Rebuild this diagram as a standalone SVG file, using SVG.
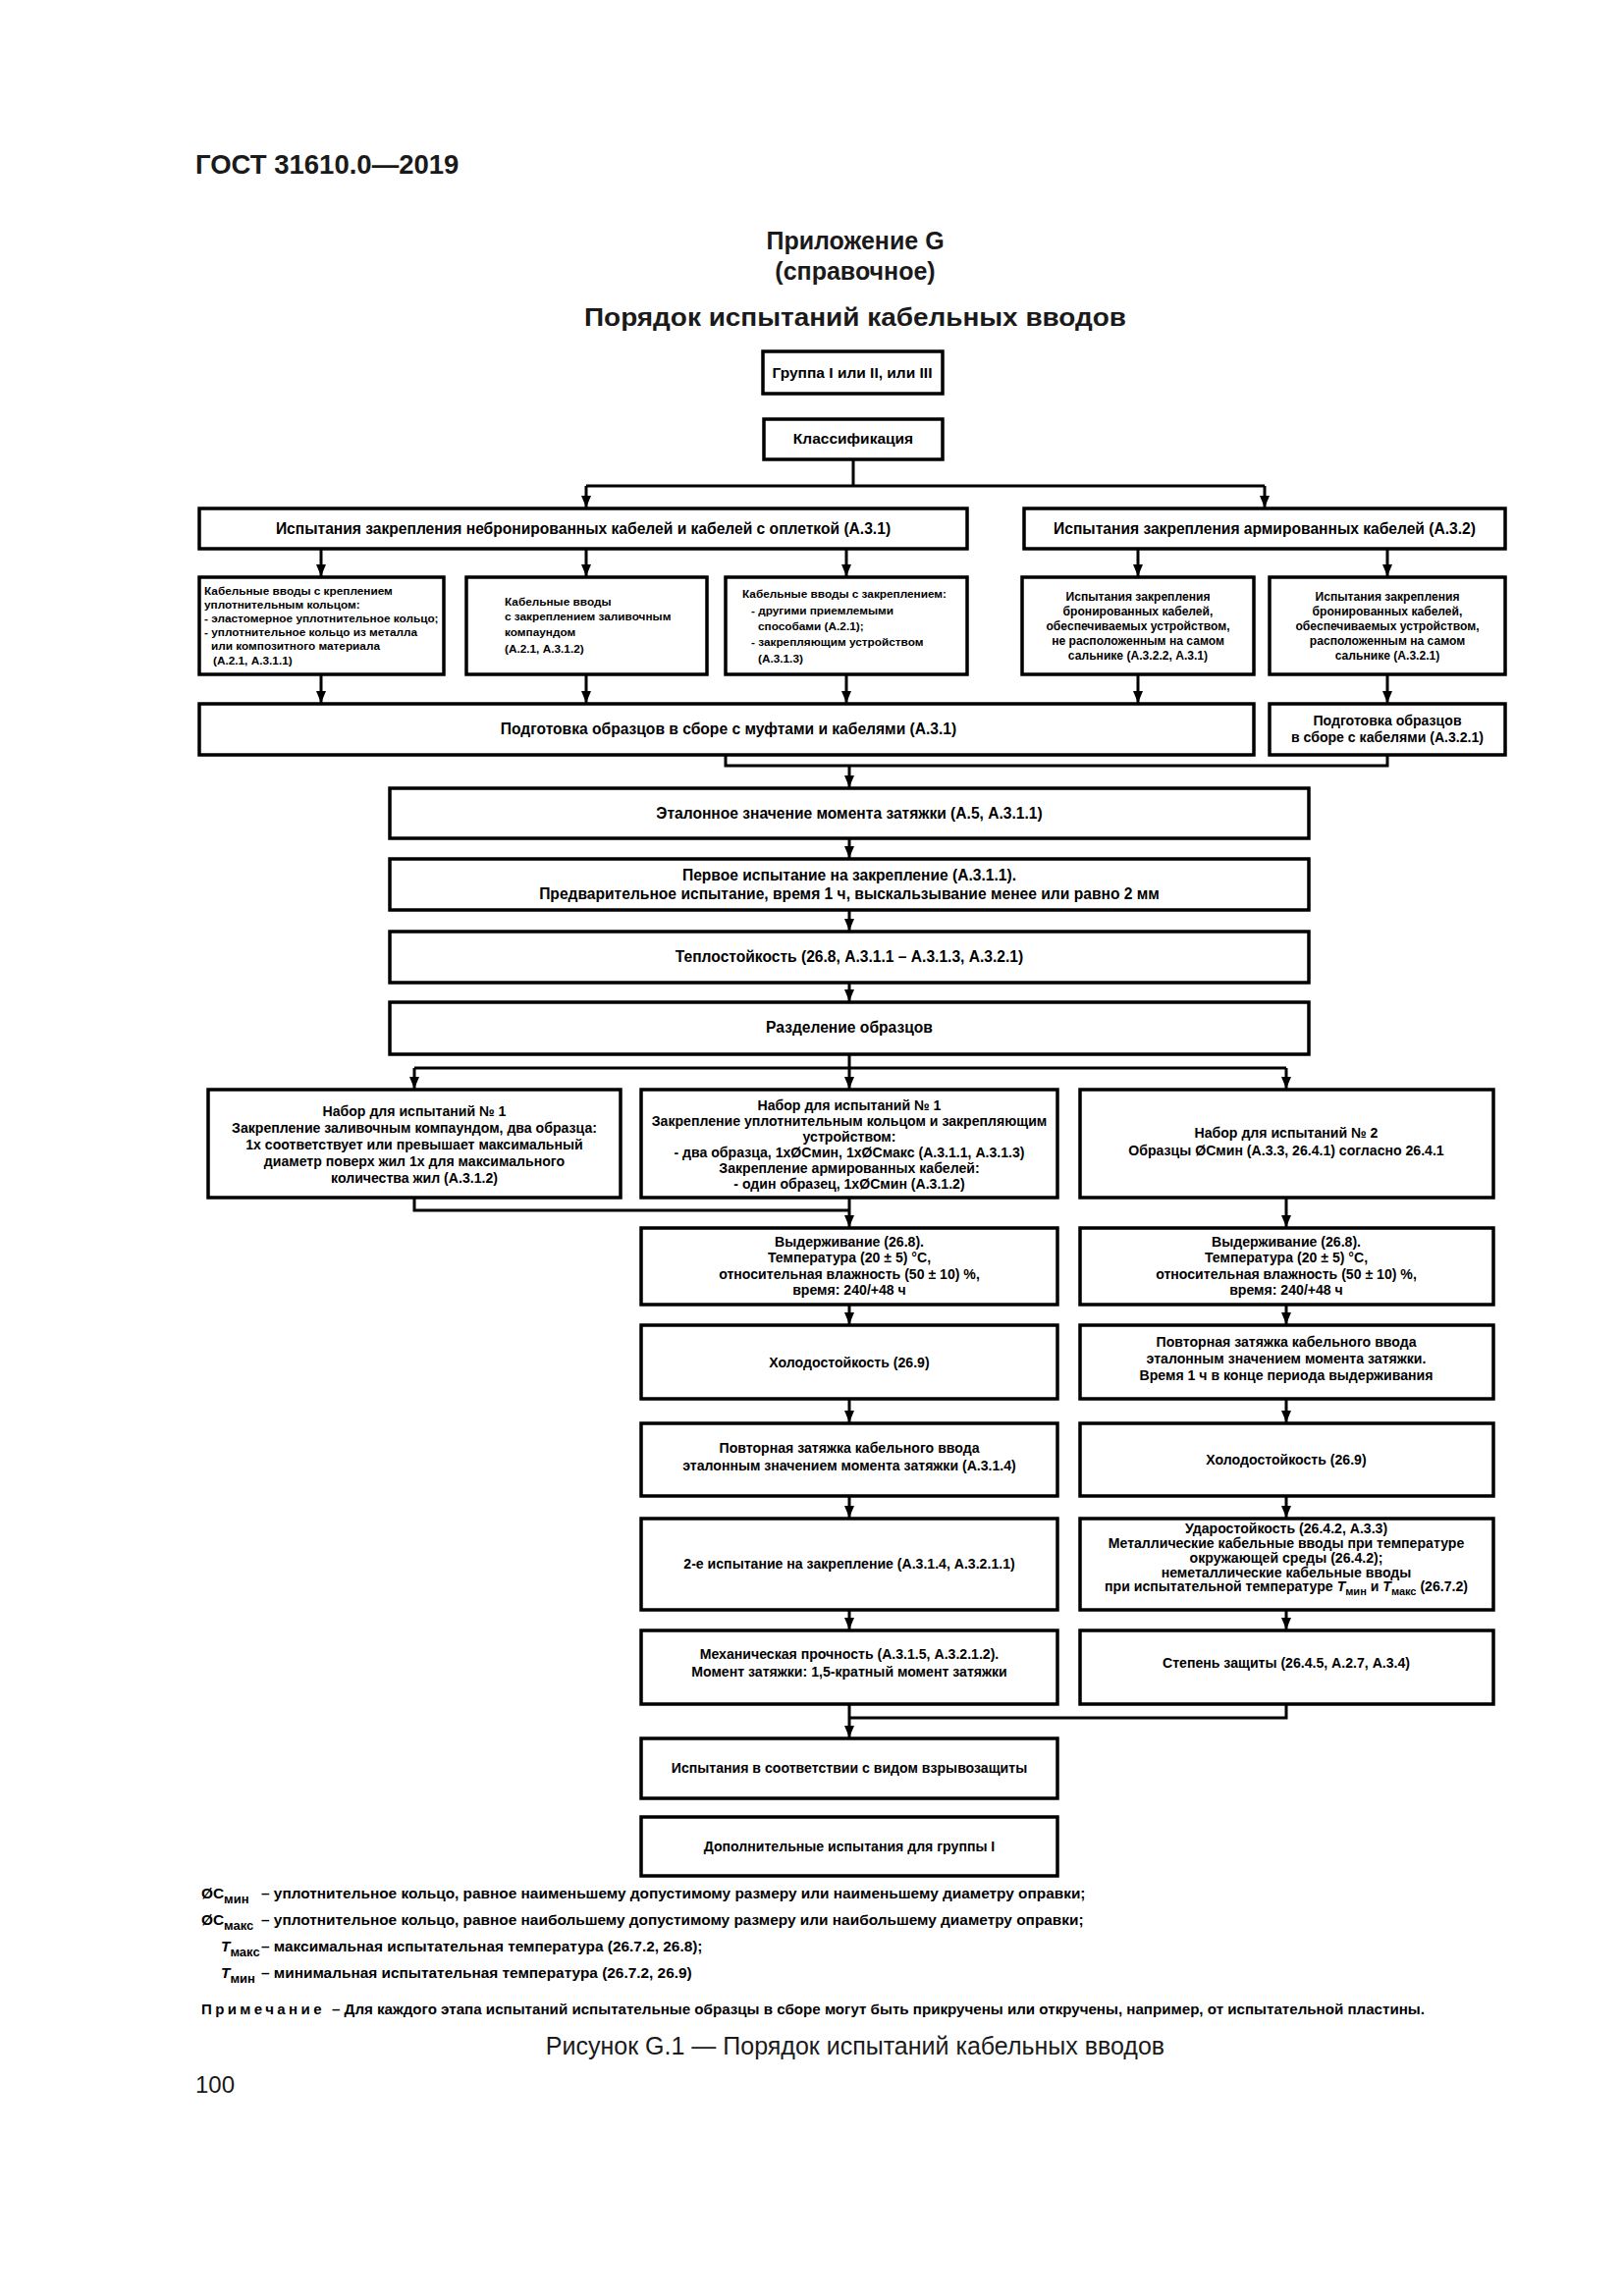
<svg xmlns="http://www.w3.org/2000/svg" width="1654" height="2339" viewBox="0 0 1654 2339">
<defs>
<style>
.bg{fill:#fff}
.box{fill:#fff;stroke:#000;stroke-width:3.5}
.ln{fill:none;stroke:#000;stroke-width:3}
text{font-family:"Liberation Sans",Arial,sans-serif;fill:#000}
.b{font-weight:bold}
.c{text-anchor:middle}
.f14{font-size:15.6px}
.f13{font-size:14.1px}
.f11{font-size:11.8px}
.f12{font-size:12.1px}
.f15{font-size:15.5px}
.lg{font-size:15.4px}
.hd{fill:#1a1a1a}
</style>
<marker id="ah" viewBox="0 0 12 10" refX="12" refY="5" markerWidth="12" markerHeight="10" markerUnits="userSpaceOnUse" orient="auto">
<path d="M0,0 L12,5 L0,10 z" fill="#000"/>
</marker>
</defs>
<rect class="bg" x="0" y="0" width="1654" height="2339"/>

<g id="header">
<text class="b hd" x="199" y="177" font-size="27.5">ГОСТ 31610.0—2019</text>
<text class="b c hd" x="871" y="254" font-size="25">Приложение G</text>
<text class="b c hd" x="871" y="285" font-size="25">(справочное)</text>
<text class="b c hd" x="871" y="332" font-size="26" textLength="552" lengthAdjust="spacingAndGlyphs">Порядок испытаний кабельных вводов</text>
</g>

<g id="connectors">
<path class="ln" d="M869,468 V495 M597,495 H1288"/>
<line class="ln" x1="597" y1="495" x2="597" y2="517" marker-end="url(#ah)"/>
<line class="ln" x1="1288" y1="495" x2="1288" y2="517" marker-end="url(#ah)"/>
<line class="ln" x1="327" y1="559" x2="327" y2="587" marker-end="url(#ah)"/>
<line class="ln" x1="597" y1="559" x2="597" y2="587" marker-end="url(#ah)"/>
<line class="ln" x1="862" y1="559" x2="862" y2="587" marker-end="url(#ah)"/>
<line class="ln" x1="1159" y1="559" x2="1159" y2="587" marker-end="url(#ah)"/>
<line class="ln" x1="1413" y1="559" x2="1413" y2="587" marker-end="url(#ah)"/>
<line class="ln" x1="327" y1="687" x2="327" y2="716" marker-end="url(#ah)"/>
<line class="ln" x1="597" y1="687" x2="597" y2="716" marker-end="url(#ah)"/>
<line class="ln" x1="862" y1="687" x2="862" y2="716" marker-end="url(#ah)"/>
<line class="ln" x1="1159" y1="687" x2="1159" y2="716" marker-end="url(#ah)"/>
<line class="ln" x1="1413" y1="687" x2="1413" y2="716" marker-end="url(#ah)"/>
<path class="ln" d="M739,769 V780 H1413 V769"/>
<line class="ln" x1="865" y1="780" x2="865" y2="802" marker-end="url(#ah)"/>
<line class="ln" x1="865" y1="854" x2="865" y2="874" marker-end="url(#ah)"/>
<line class="ln" x1="865" y1="927" x2="865" y2="948" marker-end="url(#ah)"/>
<line class="ln" x1="865" y1="1001" x2="865" y2="1020" marker-end="url(#ah)"/>
<path class="ln" d="M865,1074 V1088 M422,1088 H1310"/>
<line class="ln" x1="422" y1="1088" x2="422" y2="1109" marker-end="url(#ah)"/>
<line class="ln" x1="865" y1="1088" x2="865" y2="1109" marker-end="url(#ah)"/>
<line class="ln" x1="1310" y1="1088" x2="1310" y2="1109" marker-end="url(#ah)"/>
<path class="ln" d="M422,1220 V1233 H865"/>
<line class="ln" x1="865" y1="1220" x2="865" y2="1250" marker-end="url(#ah)"/>
<line class="ln" x1="1310" y1="1220" x2="1310" y2="1250" marker-end="url(#ah)"/>
<line class="ln" x1="865" y1="1329" x2="865" y2="1349" marker-end="url(#ah)"/>
<line class="ln" x1="1310" y1="1329" x2="1310" y2="1349" marker-end="url(#ah)"/>
<line class="ln" x1="865" y1="1425" x2="865" y2="1449" marker-end="url(#ah)"/>
<line class="ln" x1="1310" y1="1425" x2="1310" y2="1449" marker-end="url(#ah)"/>
<line class="ln" x1="865" y1="1524" x2="865" y2="1546" marker-end="url(#ah)"/>
<line class="ln" x1="1310" y1="1524" x2="1310" y2="1546" marker-end="url(#ah)"/>
<line class="ln" x1="865" y1="1640" x2="865" y2="1660" marker-end="url(#ah)"/>
<line class="ln" x1="1310" y1="1640" x2="1310" y2="1660" marker-end="url(#ah)"/>
<path class="ln" d="M1310,1736 V1750 H865"/>
<line class="ln" x1="865" y1="1736" x2="865" y2="1770" marker-end="url(#ah)"/>
</g>

<g id="n-group">
<rect class="box" x="777" y="358" width="183" height="43"/>
<text class="b c f15" x="868" y="385">Группа I или II, или III</text>
</g>
<g id="n-class">
<rect class="box" x="778" y="427" width="182" height="41"/>
<text class="b c f15" x="869" y="452">Классификация</text>
</g>
<g id="n-unarmored">
<rect class="box" x="203" y="518" width="782" height="41"/>
<text class="b c f14" x="594" y="544">Испытания закрепления небронированных кабелей и кабелей с оплеткой (А.3.1)</text>
</g>
<g id="n-armored">
<rect class="box" x="1043" y="518" width="490" height="41"/>
<text class="b c f14" x="1288" y="544">Испытания закрепления армированных кабелей (А.3.2)</text>
</g>
<g id="n-a">
<rect class="box" x="203" y="588" width="249" height="99"/>
<text class="b f11" x="208" y="606">Кабельные вводы с креплением</text>
<text class="b f11" x="208" y="620">уплотнительным кольцом:</text>
<text class="b f11" x="208" y="634">- эластомерное уплотнительное кольцо;</text>
<text class="b f11" x="208" y="648">- уплотнительное кольцо из металла</text>
<text class="b f11" x="215" y="662">или композитного материала</text>
<text class="b f11" x="217" y="677">(А.2.1, А.3.1.1)</text>
</g>
<g id="n-b">
<rect class="box" x="475" y="588" width="245" height="99"/>
<text class="b f11" x="514" y="617">Кабельные вводы</text>
<text class="b f11" x="514" y="632">с закреплением заливочным</text>
<text class="b f11" x="514" y="648">компаундом</text>
<text class="b f11" x="514" y="665">(А.2.1, А.3.1.2)</text>
</g>
<g id="n-c">
<rect class="box" x="739" y="588" width="246" height="99"/>
<text class="b f11" x="756" y="609">Кабельные вводы с закреплением:</text>
<text class="b f11" x="765" y="626">- другими приемлемыми</text>
<text class="b f11" x="772" y="642">способами (А.2.1);</text>
<text class="b f11" x="765" y="658">- закрепляющим устройством</text>
<text class="b f11" x="772" y="675">(А.3.1.3)</text>
</g>
<g id="n-d">
<rect class="box" x="1041" y="588" width="236" height="99"/>
<text class="b c f12" x="1159" y="612">Испытания закрепления</text>
<text class="b c f12" x="1159" y="627">бронированных кабелей,</text>
<text class="b c f12" x="1159" y="642">обеспечиваемых устройством,</text>
<text class="b c f12" x="1159" y="657">не расположенным на самом</text>
<text class="b c f12" x="1159" y="672">сальнике (А.3.2.2, А.3.1)</text>
</g>
<g id="n-e">
<rect class="box" x="1293" y="588" width="240" height="99"/>
<text class="b c f12" x="1413" y="612">Испытания закрепления</text>
<text class="b c f12" x="1413" y="627">бронированных кабелей,</text>
<text class="b c f12" x="1413" y="642">обеспечиваемых устройством,</text>
<text class="b c f12" x="1413" y="657">расположенным на самом</text>
<text class="b c f12" x="1413" y="672">сальнике (А.3.2.1)</text>
</g>
<g id="n-prep">
<rect class="box" x="203" y="717" width="1074" height="52"/>
<text class="b c f14" x="742" y="748">Подготовка образцов в сборе с муфтами и кабелями (А.3.1)</text>
</g>
<g id="n-prep2">
<rect class="box" x="1293" y="717" width="240" height="52"/>
<text class="b c f13" x="1413" y="739">Подготовка образцов</text>
<text class="b c f13" x="1413" y="756">в сборе с кабелями (А.3.2.1)</text>
</g>
<g id="n-ref">
<rect class="box" x="397" y="803" width="936" height="51"/>
<text class="b c f14" x="865" y="834">Эталонное значение момента затяжки (А.5, А.3.1.1)</text>
</g>
<g id="n-first">
<rect class="box" x="397" y="875" width="936" height="52"/>
<text class="b c f14" x="865" y="897">Первое испытание на закрепление (А.3.1.1).</text>
<text class="b c f14" x="865" y="916">Предварительное испытание, время 1 ч, выскальзывание менее или равно 2 мм</text>
</g>
<g id="n-heat">
<rect class="box" x="397" y="949" width="936" height="52"/>
<text class="b c f14" x="865" y="980">Теплостойкость (26.8, А.3.1.1 – А.3.1.3, А.3.2.1)</text>
</g>
<g id="n-split">
<rect class="box" x="397" y="1021" width="936" height="53"/>
<text class="b c f14" x="865" y="1052">Разделение образцов</text>
</g>
<g id="n-set1a">
<rect class="box" x="212" y="1110" width="420" height="110"/>
<text class="b c f13" x="422" y="1137">Набор для испытаний № 1</text>
<text class="b c f13" x="422" y="1154">Закрепление заливочным компаундом, два образца:</text>
<text class="b c f13" x="422" y="1171">1x соответствует или превышает максимальный</text>
<text class="b c f13" x="422" y="1188">диаметр поверх жил 1x для максимального</text>
<text class="b c f13" x="422" y="1205">количества жил (А.3.1.2)</text>
</g>
<g id="n-set1b">
<rect class="box" x="653" y="1110" width="424" height="110"/>
<text class="b c f13" x="865" y="1131">Набор для испытаний № 1</text>
<text class="b c f13" x="865" y="1147">Закрепление уплотнительным кольцом и закрепляющим</text>
<text class="b c f13" x="865" y="1163">устройством:</text>
<text class="b c f13" x="865" y="1179">- два образца, 1xØCмин, 1xØCмакс (А.3.1.1, А.3.1.3)</text>
<text class="b c f13" x="865" y="1195">Закрепление армированных кабелей:</text>
<text class="b c f13" x="865" y="1211">- один образец, 1xØCмин (А.3.1.2)</text>
</g>
<g id="n-set2">
<rect class="box" x="1100" y="1110" width="421" height="110"/>
<text class="b c f13" x="1310" y="1159">Набор для испытаний № 2</text>
<text class="b c f13" x="1310" y="1177">Образцы ØCмин (А.3.3, 26.4.1) согласно 26.4.1</text>
</g>
<g id="n-cond1">
<rect class="box" x="653" y="1251" width="424" height="78"/>
<text class="b c f13" x="865" y="1270">Выдерживание (26.8).</text>
<text class="b c f13" x="865" y="1286">Температура (20 ± 5) °C,</text>
<text class="b c f13" x="865" y="1303">относительная влажность (50 ± 10) %,</text>
<text class="b c f13" x="865" y="1319">время: 240/+48 ч</text>
</g>
<g id="n-cond2">
<rect class="box" x="1100" y="1251" width="421" height="78"/>
<text class="b c f13" x="1310" y="1270">Выдерживание (26.8).</text>
<text class="b c f13" x="1310" y="1286">Температура (20 ± 5) °C,</text>
<text class="b c f13" x="1310" y="1303">относительная влажность (50 ± 10) %,</text>
<text class="b c f13" x="1310" y="1319">время: 240/+48 ч</text>
</g>
<g id="n-cold1">
<rect class="box" x="653" y="1350" width="424" height="75"/>
<text class="b c f13" x="865" y="1393">Холодостойкость (26.9)</text>
</g>
<g id="n-retight2">
<rect class="box" x="1100" y="1350" width="421" height="75"/>
<text class="b c f13" x="1310" y="1372">Повторная затяжка кабельного ввода</text>
<text class="b c f13" x="1310" y="1389">эталонным значением момента затяжки.</text>
<text class="b c f13" x="1310" y="1406">Время 1 ч в конце периода выдерживания</text>
</g>
<g id="n-retight1">
<rect class="box" x="653" y="1450" width="424" height="74"/>
<text class="b c f13" x="865" y="1480">Повторная затяжка кабельного ввода</text>
<text class="b c f13" x="865" y="1498">эталонным значением момента затяжки (А.3.1.4)</text>
</g>
<g id="n-cold2">
<rect class="box" x="1100" y="1450" width="421" height="74"/>
<text class="b c f13" x="1310" y="1492">Холодостойкость (26.9)</text>
</g>
<g id="n-second">
<rect class="box" x="653" y="1547" width="424" height="93"/>
<text class="b c f13" x="865" y="1598">2-е испытание на закрепление (А.3.1.4, А.3.2.1.1)</text>
</g>
<g id="n-impact">
<rect class="box" x="1100" y="1547" width="421" height="93"/>
<text class="b c f13" x="1310" y="1562">Ударостойкость (26.4.2, А.3.3)</text>
<text class="b c f13" x="1310" y="1577">Металлические кабельные вводы при температуре</text>
<text class="b c f13" x="1310" y="1592">окружающей среды (26.4.2);</text>
<text class="b c f13" x="1310" y="1607">неметаллические кабельные вводы</text>
<text class="b c f13" x="1310" y="1621">при испытательной температуре <tspan font-style="italic">T</tspan><tspan dy="4" font-size="11">мин</tspan><tspan dy="-4"> и </tspan><tspan font-style="italic">T</tspan><tspan dy="4" font-size="11">макс</tspan><tspan dy="-4"> (26.7.2)</tspan></text>
</g>
<g id="n-mech">
<rect class="box" x="653" y="1661" width="424" height="75"/>
<text class="b c f13" x="865" y="1690">Механическая прочность (А.3.1.5, А.3.2.1.2).</text>
<text class="b c f13" x="865" y="1708">Момент затяжки: 1,5-кратный момент затяжки</text>
</g>
<g id="n-ip">
<rect class="box" x="1100" y="1661" width="421" height="75"/>
<text class="b c f13" x="1310" y="1699">Степень защиты (26.4.5, А.2.7, А.3.4)</text>
</g>
<g id="n-ex">
<rect class="box" x="653" y="1771" width="424" height="61"/>
<text class="b c f13" x="865" y="1806">Испытания в соответствии с видом взрывозащиты</text>
</g>
<g id="n-extra">
<rect class="box" x="653" y="1851" width="424" height="60"/>
<text class="b c f13" x="865" y="1886">Дополнительные испытания для группы I</text>
</g>

<g id="legend">
<text class="b lg" x="205" y="1934">ØC<tspan dy="5" font-size="13">мин</tspan></text>
<text class="b lg" x="266" y="1934">– уплотнительное кольцо, равное наименьшему допустимому размеру или наименьшему диаметру оправки;</text>
<text class="b lg" x="205" y="1961">ØC<tspan dy="5" font-size="13">макс</tspan></text>
<text class="b lg" x="266" y="1961">– уплотнительное кольцо, равное наибольшему допустимому размеру или наибольшему диаметру оправки;</text>
<text class="b lg" x="225" y="1988"><tspan font-style="italic">T</tspan><tspan dy="5" font-size="13">макс</tspan></text>
<text class="b lg" x="266" y="1988">– максимальная испытательная температура (26.7.2, 26.8);</text>
<text class="b lg" x="225" y="2015"><tspan font-style="italic">T</tspan><tspan dy="5" font-size="13">мин</tspan></text>
<text class="b lg" x="266" y="2015">– минимальная испытательная температура (26.7.2, 26.9)</text>
<text class="b" x="205" y="2052" font-size="15" letter-spacing="3.4">Примечание</text>
<text class="b" x="338" y="2052" font-size="15" textLength="1113" lengthAdjust="spacingAndGlyphs">– Для каждого этапа испытаний испытательные образцы в сборе могут быть прикручены или откручены, например, от испытательной пластины.</text>
</g>

<g id="caption">
<text class="c hd" x="871" y="2093" font-size="25">Рисунок G.1 — Порядок испытаний кабельных вводов</text>
<text class="hd" x="199" y="2132" font-size="24">100</text>
</g>
</svg>
